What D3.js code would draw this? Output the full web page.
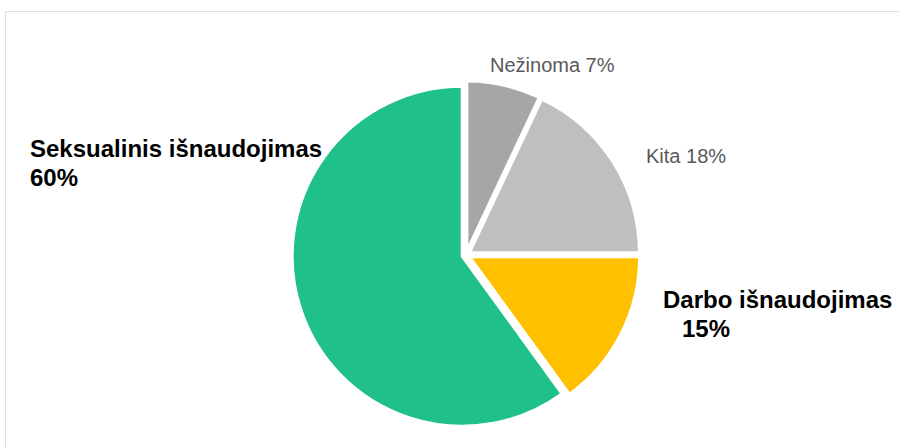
<!DOCTYPE html>
<html lang="lt">
<head>
<meta charset="utf-8">
<title>Išnaudojimo formos</title>
<script src="https://cdn.jsdelivr.net/npm/d3@7"></script>
<style>
  body { margin: 0; background: #fff; }
  svg text { font-family: Arial, "Liberation Sans", sans-serif; }
</style>
</head>
<body>
<div id="chart"></div>
<script>
  // duomenys (pagal laikrodžio rodyklę nuo viršaus)
  var categories = ["Nežinoma", "Kita", "Darbo išnaudojimas", "Seksualinis išnaudojimas"];
  var values = [7, 18, 15, 60];
  var colors = ["#a6a6a6", "#bfbfbf", "#ffc000", "#20c08a"];

  var width = 899, height = 448;
  var cx = 466, cy = 255, radius = 170, explode = 4;

  var svg = d3.select("#chart").append("svg")
      .attr("width", width)
      .attr("height", height);

  // rėmelis
  svg.append("rect")
      .attr("x", 5.5).attr("y", 11.5)
      .attr("width", width + 20).attr("height", height + 20)
      .attr("fill", "none")
      .attr("stroke", "#e0e0e0");

  var data = categories.map(function(c, i) { return { name: c, value: values[i], color: colors[i] }; });

  var pie = d3.pie().sort(null).value(function(d) { return d.value; });
  var arc = d3.arc().innerRadius(0).outerRadius(radius);

  var g = svg.append("g").attr("transform", "translate(" + cx + "," + cy + ")");

  g.selectAll("path")
    .data(pie(data))
    .enter().append("path")
      .attr("d", arc)
      .attr("fill", function(d) { return d.data.color; })
      .attr("stroke", "#fff")
      .attr("stroke-width", 3)
      .attr("transform", function(d) {
        var a = (d.startAngle + d.endAngle) / 2;
        return "translate(" + (Math.sin(a) * explode) + "," + (-Math.cos(a) * explode) + ")";
      });

  // etiketės
  var labels = [
    { lines: [categories[0] + " " + values[0] + "%"], x: [490], y: 72, bold: false },
    { lines: [categories[1] + " " + values[1] + "%"], x: [646], y: 163, bold: false },
    { lines: [categories[2], values[2] + "%"], x: [663, 682], y: 308, bold: true },
    { lines: [categories[3], values[3] + "%"], x: [30, 30], y: 157, bold: true }
  ];

  labels.forEach(function(l) {
    var t = svg.append("text")
        .attr("fill", l.bold ? "#000" : "#595959")
        .attr("font-size", l.bold ? 24 : 20)
        .attr("font-weight", l.bold ? "bold" : "normal");
    l.lines.forEach(function(s, i) {
      t.append("tspan")
          .attr("x", l.x[i])
          .attr("y", l.y + i * 28.5)
          .text(s);
    });
  });
</script>
</body>
</html>
